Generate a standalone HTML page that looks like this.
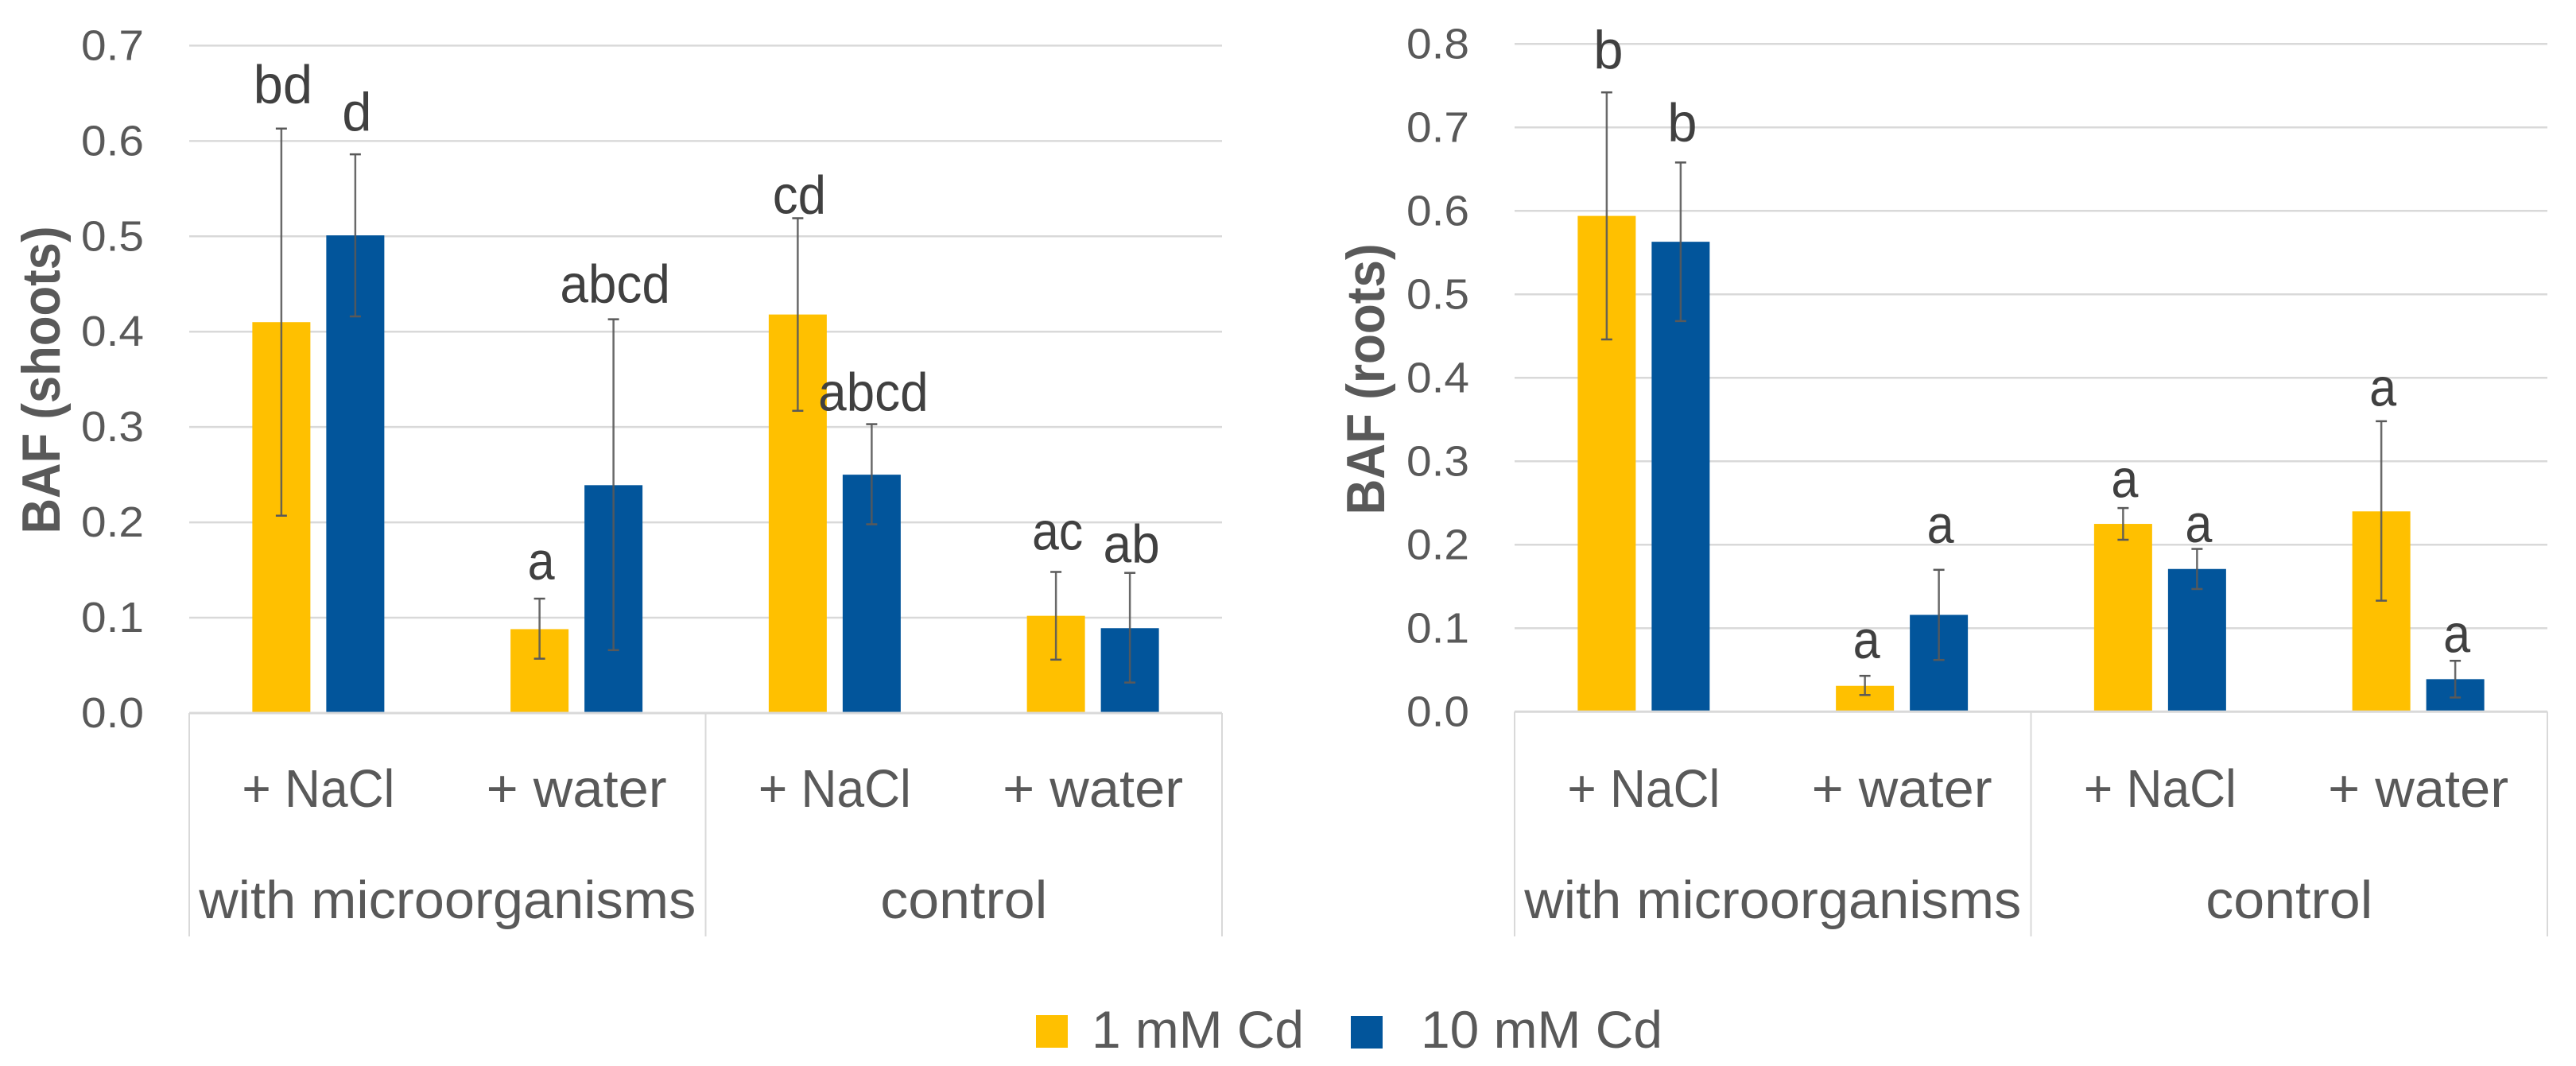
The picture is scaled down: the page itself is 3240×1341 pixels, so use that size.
<!DOCTYPE html>
<html lang="en">
<head>
<meta charset="utf-8">
<title>BAF in shoots and roots</title>
<style>
html,body{margin:0;padding:0;background:#fff;width:3240px;height:1341px;overflow:hidden}
svg{display:block}
text{font-family:"Liberation Sans",sans-serif;fill:#595959}
</style>
</head>
<body>
<svg id="figure" xmlns="http://www.w3.org/2000/svg" width="3240" height="1341" viewBox="0 0 3240 1341">
  <rect x="0" y="0" width="3240" height="1341" fill="#ffffff"/>
  <g id="left-chart"></g>
  <g id="right-chart"></g>
  <g>
    <g>
      <rect x="1303" y="1277" width="40" height="41" fill="#FFC000"/>
      <text x="1373" y="1318" font-size="66" textLength="267" lengthAdjust="spacingAndGlyphs">1 mM Cd</text>
    </g>
    <g>
      <rect x="1699" y="1278" width="40" height="41" fill="#02559B"/>
      <text x="1787" y="1318" font-size="66" textLength="304" lengthAdjust="spacingAndGlyphs">10 mM Cd</text>
    </g>
  </g>
</svg>
<script>
const conditions = ['+ NaCl', '+ water', '+ NaCl', '+ water'];
const groups = ['with microorganisms', 'control'];
const seriesNames = ['1 mM Cd', '10 mM Cd'];

const shootsTicks = ['0.0', '0.1', '0.2', '0.3', '0.4', '0.5', '0.6', '0.7'];
const shoots1mM = [0.410, 0.088, 0.418, 0.102];
const shoots10mM = [0.501, 0.239, 0.250, 0.089];
const shoots1mMErrUp = [0.203, 0.032, 0.101, 0.046];
const shoots1mMErrDown = [0.203, 0.031, 0.101, 0.046];
const shoots10mMErrUp = [0.085, 0.174, 0.053, 0.058];
const shoots10mMErrDown = [0.085, 0.173, 0.052, 0.057];
const shoots1mMLetters = ['bd', 'a', 'cd', 'ac'];
const shoots10mMLetters = ['d', 'abcd', 'abcd', 'ab'];
const shoots1mMLetterGap = [0.0267, 0.020, 0.005, 0.0234];
const shoots10mMLetterGap = [0.025, 0.0175, 0.0142, 0.0112];

const rootsTicks = ['0.0', '0.1', '0.2', '0.3', '0.4', '0.5', '0.6', '0.7', '0.8'];
const roots1mM = [0.594, 0.031, 0.225, 0.240];
const roots10mM = [0.563, 0.116, 0.171, 0.039];
const roots1mMErrUp = [0.148, 0.012, 0.019, 0.108];
const roots1mMErrDown = [0.148, 0.011, 0.019, 0.107];
const roots10mMErrUp = [0.095, 0.054, 0.024, 0.022];
const roots10mMErrDown = [0.095, 0.054, 0.024, 0.022];
const roots1mMLetters = ['b', 'a', 'a', 'a'];
const roots10mMLetters = ['b', 'a', 'a', 'a'];
const roots1mMLetterGap = [0.029, 0.021, 0.013, 0.0187];
const roots10mMLetterGap = [0.0257, 0.0324, 0.0082, 0.0101];

const NS = 'http://www.w3.org/2000/svg';
const letterAdvance = {a: 0.479, b: 0.525, c: 0.423, d: 0.525};

function make(parent, tag, attrs) {
  const el = document.createElementNS(NS, tag);
  for (const k in attrs) el.setAttribute(k, attrs[k]);
  parent.appendChild(el);
  return el;
}

function drawChart(root, opt) {
  const left = opt.left, width = 1299, bottom = opt.bottom, catW = width / conditions.length;
  const maxTick = parseFloat(opt.ticks[opt.ticks.length - 1]);
  const y = v => bottom - (v / maxTick) * (bottom - opt.top);
  const xc = i => left + catW * (i + 0.5);
  const barW = 73, barGap = 20;

  opt.ticks.forEach(t => {
    const v = parseFloat(t);
    if (v > 0) {
      const grid = make(root, 'line', {x1: left, x2: left + width, y1: y(v), y2: y(v), stroke: '#D9D9D9', 'stroke-width': 2.5});
      
      
    }
    const label = make(root, 'text', {x: opt.tickRight, y: y(v) + 18, 'font-size': 54, 'text-anchor': 'end', textLength: 79, lengthAdjust: 'spacingAndGlyphs'});
    label.textContent = t;
    
    
  });

  const seriesList = [
    {vals: opt.a, up: opt.aUp, down: opt.aDown, letters: opt.aLetters, gaps: opt.aGap, color: '#FFC000', dx: -(barW + barGap) / 2},
    {vals: opt.b, up: opt.bUp, down: opt.bDown, letters: opt.bLetters, gaps: opt.bGap, color: '#02559B', dx: (barW + barGap) / 2}
  ];

  seriesList.forEach(s => {
    s.vals.forEach((v, i) => {
      const cx = xc(i) + s.dx;
      const bar = make(root, 'rect', {x: cx - barW / 2, y: y(v), width: barW, height: bottom - y(v), fill: s.color});
      
      
    });
  });

  const axis = make(root, 'line', {x1: left, x2: left + width, y1: bottom, y2: bottom, stroke: '#D9D9D9', 'stroke-width': 3});
  
  

  [0, 2, 4].forEach(k => {
    const x = left + catW * k;
    const div = make(root, 'line', {x1: x, x2: x, y1: bottom, y2: 1178, stroke: '#D9D9D9', 'stroke-width': 2});
    
    
  });

  seriesList.forEach(s => {
    s.vals.forEach((v, i) => {
      const cx = xc(i) + s.dx;
      const hi = v + s.up[i], lo = v - s.down[i];
      const stem = make(root, 'line', {x1: cx, x2: cx, y1: y(hi), y2: y(lo), stroke: '#595959', 'stroke-width': 2.5, 'stroke-opacity': 0.9});
      
      
      const capTop = make(root, 'line', {x1: cx - 7, x2: cx + 7, y1: y(hi), y2: y(hi), stroke: '#595959', 'stroke-width': 2.5});
      
      
      const capBottom = make(root, 'line', {x1: cx - 7, x2: cx + 7, y1: y(lo), y2: y(lo), stroke: '#595959', 'stroke-width': 2.5});
      
      

      const word = s.letters[i];
      const adv = word.split('').reduce((sum, c) => sum + letterAdvance[c], 0) * 71;
      const sig = make(root, 'text', {x: cx + 2, y: y(hi + s.gaps[i]), 'font-size': 68, 'text-anchor': 'middle', textLength: adv.toFixed(1), lengthAdjust: 'spacingAndGlyphs', style: 'fill:#404040'});
      sig.textContent = word;
      
      
    });
  });

  conditions.forEach((c, i) => {
    const len = c === '+ NaCl' ? 192 : 227;
    const t = make(root, 'text', {x: xc(i), y: 1015, 'font-size': 67, 'text-anchor': 'middle', textLength: len, lengthAdjust: 'spacingAndGlyphs'});
    t.textContent = c;
    
    
  });

  groups.forEach((g, i) => {
    const len = g === 'control' ? 210 : 625;
    const t = make(root, 'text', {x: left + catW * (2 * i + 1), y: 1155, 'font-size': 67, 'text-anchor': 'middle', textLength: len, lengthAdjust: 'spacingAndGlyphs'});
    t.textContent = g;
    
    
  });

  const title = make(root, 'text', {x: 0, y: 0, 'font-size': 68, 'font-weight': 'bold', 'text-anchor': 'middle', textLength: opt.titleLen, lengthAdjust: 'spacingAndGlyphs', transform: 'translate(' + opt.titleX + ',' + opt.titleY + ') rotate(-90)'});
  title.textContent = opt.title;
  
  
}

drawChart(document.getElementById('left-chart'), {
  left: 238, bottom: 897, top: 57.4, tickRight: 181,
  ticks: shootsTicks,
  a: shoots1mM, aUp: shoots1mMErrUp, aDown: shoots1mMErrDown, aLetters: shoots1mMLetters, aGap: shoots1mMLetterGap,
  b: shoots10mM, bUp: shoots10mMErrUp, bDown: shoots10mMErrDown, bLetters: shoots10mMLetters, bGap: shoots10mMLetterGap,
  title: 'BAF (shoots)', titleLen: 387, titleX: 75, titleY: 478
});

drawChart(document.getElementById('right-chart'), {
  left: 1905, bottom: 895.3, top: 55.3, tickRight: 1848,
  ticks: rootsTicks,
  a: roots1mM, aUp: roots1mMErrUp, aDown: roots1mMErrDown, aLetters: roots1mMLetters, aGap: roots1mMLetterGap,
  b: roots10mM, bUp: roots10mMErrUp, bDown: roots10mMErrDown, bLetters: roots10mMLetters, bGap: roots10mMLetterGap,
  title: 'BAF (roots)', titleLen: 341, titleX: 1741, titleY: 477
});
</script>
</body>
</html>
